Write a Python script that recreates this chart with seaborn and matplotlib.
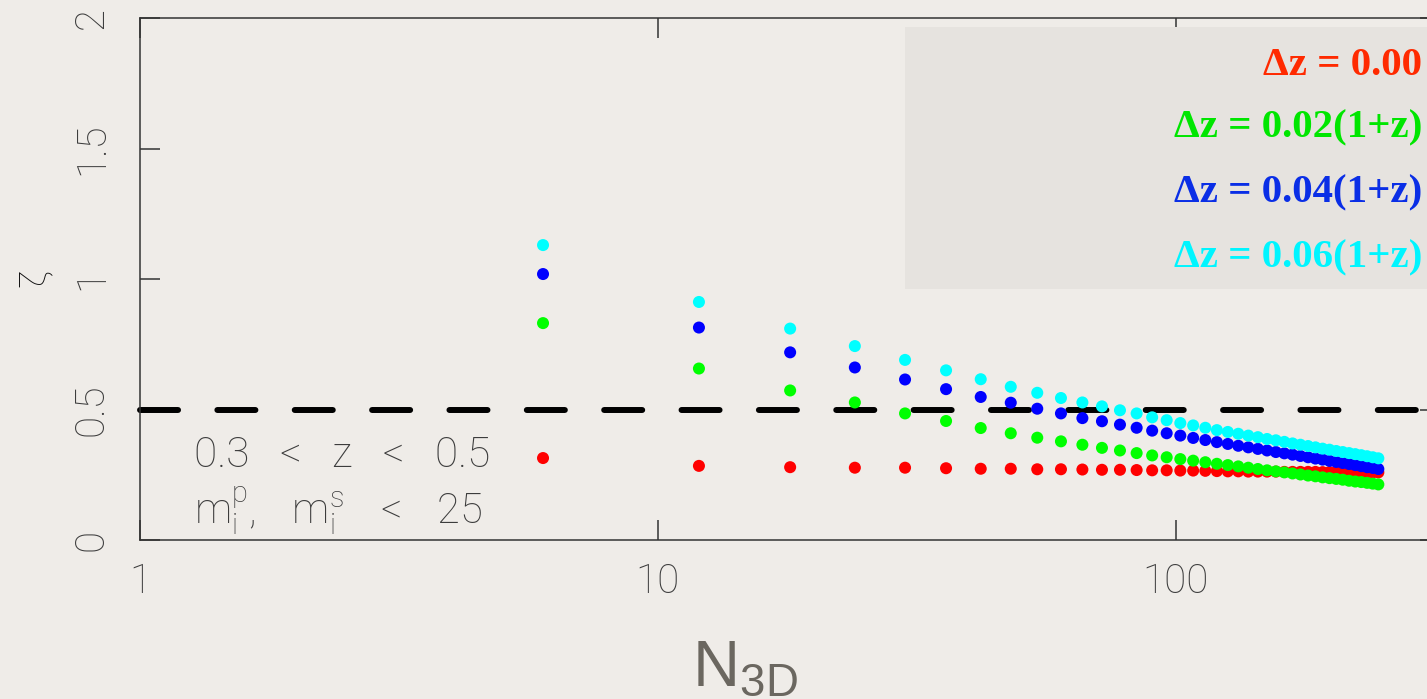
import numpy as np
import pandas as pd
import matplotlib
matplotlib.use("Agg")
import matplotlib.pyplot as plt
from matplotlib.patches import Rectangle
import seaborn as sns

# group size N_3D (every 6th value) and zeta for each photo-z error
n3d = [6, 12, 18, 24, 30, 36, 42, 48, 54, 60, 66, 72, 78, 84, 90, 96, 102, 108, 114, 120,
       126, 132, 138, 144, 150, 156, 162, 168, 174, 180, 186, 192, 198, 204, 210, 216,
       222, 228, 234, 240, 246]

zeta_000 = [0.314, 0.284, 0.279, 0.277, 0.277, 0.275, 0.273, 0.273, 0.271, 0.271, 0.270,
            0.269, 0.269, 0.268, 0.267, 0.267, 0.266, 0.266, 0.265, 0.264,
            0.263, 0.263, 0.262, 0.262, 0.262, 0.262, 0.261, 0.261, 0.261, 0.261, 0.261,
            0.260, 0.260, 0.260, 0.260, 0.260, 0.260, 0.259, 0.259, 0.259, 0.259]
zeta_002 = [0.831, 0.657, 0.573, 0.527, 0.485, 0.456, 0.429, 0.409, 0.392, 0.378, 0.365,
            0.353, 0.343, 0.333, 0.324, 0.317, 0.310, 0.304, 0.298, 0.292,
            0.287, 0.282, 0.277, 0.272, 0.267, 0.263, 0.259, 0.255, 0.251, 0.247, 0.244,
            0.240, 0.237, 0.234, 0.231, 0.227, 0.224, 0.222, 0.219, 0.216, 0.213]
zeta_004 = [1.019, 0.814, 0.719, 0.661, 0.615, 0.578, 0.548, 0.526, 0.503, 0.485, 0.467,
            0.455, 0.442, 0.430, 0.419, 0.409, 0.400, 0.391, 0.383, 0.375,
            0.368, 0.361, 0.355, 0.349, 0.343, 0.337, 0.332, 0.327, 0.322, 0.317, 0.312,
            0.308, 0.303, 0.299, 0.295, 0.291, 0.287, 0.283, 0.279, 0.276, 0.272]
zeta_006 = [1.130, 0.912, 0.810, 0.743, 0.690, 0.650, 0.616, 0.587, 0.564, 0.544, 0.527,
            0.512, 0.497, 0.485, 0.470, 0.459, 0.448, 0.439, 0.430, 0.421,
            0.414, 0.407, 0.400, 0.394, 0.387, 0.382, 0.376, 0.370, 0.365, 0.360, 0.355,
            0.350, 0.346, 0.341, 0.337, 0.333, 0.329, 0.325, 0.321, 0.317, 0.313]

series_names = ["0.00", "0.02", "0.04", "0.06"]
dot_colors = ["#ff0000", "#00ff00", "#0000ff", "#00ffff"]
legend_labels = ["\u0394z = 0.00", "\u0394z = 0.02(1+z)", "\u0394z = 0.04(1+z)", "\u0394z = 0.06(1+z)"]
legend_colors = ["#ff2a00", "#00e600", "#0a2ee6", "#00f5ff"]

threshold = 0.5

paper = "#efece8"
thin = ["Roboto", "DejaVu Sans"]
sns.set_style("ticks")
plt.rcParams["font.family"] = thin
plt.rcParams["lines.scale_dashes"] = False
plt.rcParams["mathtext.default"] = "regular"

df = pd.DataFrame({
    "N": n3d * 4,
    "zeta": zeta_000 + zeta_002 + zeta_004 + zeta_006,
    "dz": [s for s in series_names for _ in n3d],
})

fig = plt.figure(figsize=(14.27, 6.99), dpi=100, facecolor=paper)
ax = fig.add_axes([140 / 1427, 159 / 699, 1300 / 1427, 522 / 699])
ax.set_facecolor("none")

sns.scatterplot(data=df, x="N", y="zeta", hue="dz", hue_order=series_names,
                palette=dot_colors, s=75, linewidth=0, legend=False, ax=ax, zorder=3)

ax.axhline(threshold, color="black", lw=4.3, linestyle=(0, (27.4, 28.3)),
           dash_capstyle="round", clip_on=False, zorder=2)

ax.set_xscale("log")
ax.set_xlim(1, 10 ** 2.51)
ax.set_ylim(0, 2)
ax.set_xticks([1, 10, 100])
ax.set_xticklabels(["1", "10", "100"])
ax.set_yticks([0, 0.5, 1, 1.5, 2])
ax.set_yticklabels(["0", "0.5", "1", "1.5", "2"], rotation=90, va="center")
ax.minorticks_off()
ax.tick_params(axis="both", which="major", direction="in", length=14.4, width=1.1,
               color="#333333", top=True, right=True, labelsize=29, labelcolor="#3c3c3c")
ax.tick_params(axis="x", pad=16)
ax.tick_params(axis="y", pad=21)
for lab in ax.get_xticklabels() + ax.get_yticklabels():
    lab.set_fontweight("light")
for sp in ax.spines.values():
    sp.set_color("#333333")
    sp.set_linewidth(1.1)
    sp.set_visible(True)

ax.set_xlabel(r"$\mathregular{N_{3D}}$", fontsize=47, color="#6b6760",
              family=["Liberation Sans", "DejaVu Sans"])
ax.xaxis.set_label_coords((745 - 140) / 1300, -0.19)
ax.set_ylabel("")
fig.text(35 / 1427, (699 - 279) / 699, "\u03b6", rotation=90, rotation_mode="anchor",
         ha="center", va="center", fontsize=26, color="#111111", fontweight="light")

ax.text(1.27, 0.278, "0.3   <   z   <   0.5", fontsize=30.5, color="#3c3c3c",
        fontweight="light", va="baseline")
ax.text(1.27, 0.065, r"$\mathregular{m_i^p,\ \ m_i^s\ \ <\ \ 25}$", fontsize=30,
        color="#3c3c3c", fontweight="light", va="baseline")

# legend panel
fig.add_artist(Rectangle((905 / 1427, (699 - 289) / 699), 1.0, 262 / 699,
                         transform=fig.transFigure, facecolor="#e6e3df",
                         edgecolor="none", zorder=2))
for lbl, col, base in zip(legend_labels, legend_colors, [75, 137, 202, 267]):
    fig.text(1422 / 1427, (699 - base) / 699, lbl, color=col, ha="right", va="baseline",
             fontsize=29.5, fontweight="bold", family="Liberation Serif", zorder=3)

fig.savefig("out.png", dpi=100, facecolor=paper)
